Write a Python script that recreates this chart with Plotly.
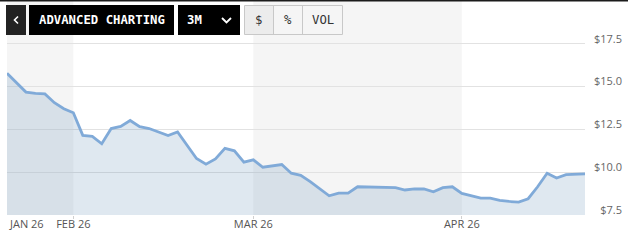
import plotly.graph_objects as go

# ---- data ----
dates = [
    "2026-01-22", "2026-01-23", "2026-01-26", "2026-01-27", "2026-01-28", "2026-01-29", "2026-01-30",
    "2026-02-02", "2026-02-03", "2026-02-04", "2026-02-05", "2026-02-06",
    "2026-02-09", "2026-02-10", "2026-02-11", "2026-02-12", "2026-02-13",
    "2026-02-17", "2026-02-18", "2026-02-19", "2026-02-20",
    "2026-02-23", "2026-02-24", "2026-02-25", "2026-02-26", "2026-02-27",
    "2026-03-02", "2026-03-03", "2026-03-04", "2026-03-05", "2026-03-06",
    "2026-03-09", "2026-03-10", "2026-03-11", "2026-03-12", "2026-03-13",
    "2026-03-16", "2026-03-17", "2026-03-18", "2026-03-19", "2026-03-20",
    "2026-03-23", "2026-03-24", "2026-03-25", "2026-03-26", "2026-03-27",
    "2026-03-30", "2026-03-31",
    "2026-04-01", "2026-04-02", "2026-04-06", "2026-04-07", "2026-04-08", "2026-04-09", "2026-04-10",
    "2026-04-13", "2026-04-14", "2026-04-15", "2026-04-16", "2026-04-17", "2026-04-20", "2026-04-21",
]
prices = [
    15.78, 15.24, 14.68, 14.60, 14.57, 14.06, 13.71,
    13.47, 12.15, 12.09, 11.66, 12.55,
    12.68, 13.02, 12.66, 12.55, 12.33,
    12.14, 12.35, 11.55, 10.80,
    10.47, 10.78, 11.39, 11.25, 10.59,
    10.72, 10.29, 10.37, 10.45, 9.94,
    9.82, 9.45, 9.04, 8.62, 8.78,
    8.78, 9.15, 9.13, 9.13, 9.13,
    9.10, 8.96, 9.02, 9.02, 8.86,
    9.10, 9.15,
    8.76, 8.61, 8.49, 8.49, 8.35, 8.29, 8.25,
    8.45, 9.15, 9.94, 9.66, 9.86, 9.90, 9.90,
]
month_ticks = ["2026-02-02", "2026-03-02", "2026-04-01"]
month_labels = ["FEB 26", "MAR 26", "APR 26"]
first_label = "JAN 26"
y_ticks = [7.5, 10.0, 12.5, 15.0, 17.5]
y_labels = ["$7.5", "$10.0", "$12.5", "$15.0", "$17.5"]
buttons = ["ADVANCED CHARTING", "3M"]
toggles = ["$", "%", "VOL"]

# ---- layout constants ----
W, H = 628, 242
ML, MR, MT, MB = 7, 6, 1, 27
PW = W - ML - MR  # plot area width in px

def fx(px):  # page x -> paper fraction
    return (px - ML) / PW

def oy(py):  # page y -> pixel offset from paper top (upward positive)
    return MT - py

fig = go.Figure()
fig.add_trace(go.Scatter(
    x=dates, y=prices, mode="lines",
    line=dict(color="#80aad8", width=2.8),
    fill="tozeroy", fillcolor="rgba(96,140,180,0.2)",
    hoverinfo="skip",
))

shapes = []
# month bands
idx = {d: i for i, d in enumerate(dates)}
band_pairs = [(0, idx[month_ticks[0]]), (idx[month_ticks[1]], idx[month_ticks[2]])]
for a, b in band_pairs:
    shapes.append(dict(type="rect", xref="x", yref="paper", x0=a, x1=b, y0=0, y1=1,
                       fillcolor="#f5f5f5", line=dict(width=0), layer="below"))

# top dark rule
shapes.append(dict(type="rect", xref="paper", yref="paper", x0=fx(0), x1=fx(W),
                   ysizemode="pixel", yanchor=1, y0=oy(0), y1=oy(1.6),
                   fillcolor="#1b1b1b", line=dict(width=0)))

def btn(x0, x1, y0, y1, fill, line_color=None):
    shapes.append(dict(type="rect", xref="paper", yref="paper",
                       xsizemode="pixel", xanchor=0, x0=x0 - ML, x1=x1 - ML,
                       ysizemode="pixel", yanchor=1, y0=oy(y0), y1=oy(y1),
                       fillcolor=fill,
                       line=dict(width=1 if line_color else 0, color=line_color or fill)))

btn(6, 26, 5, 35, "#222222")
btn(29, 174, 5, 35, "#000000")
btn(178, 240, 5, 35, "#000000")
btn(244.5, 273, 5.5, 34.5, "#ececec")
btn(244.5, 342.5, 5.5, 34.5, "rgba(0,0,0,0)", "#c8c8c8")
for xd in (273, 302):
    shapes.append(dict(type="line", xref="paper", yref="paper",
                       xsizemode="pixel", xanchor=0, x0=xd - ML + 0.5, x1=xd - ML + 0.5,
                       ysizemode="pixel", yanchor=1, y0=oy(5.5), y1=oy(34.5),
                       line=dict(width=1, color="#c8c8c8")))
# dropdown chevron
shapes.append(dict(type="path", xref="paper", yref="paper",
                   xsizemode="pixel", xanchor=0, ysizemode="pixel", yanchor=1,
                   path=f"M {222-ML},{oy(18)} L {226.5-ML},{oy(22.5)} L {231-ML},{oy(18)}",
                   line=dict(color="white", width=1.8)))
# back chevron
shapes.append(dict(type="path", xref="paper", yref="paper",
                   xsizemode="pixel", xanchor=0, ysizemode="pixel", yanchor=1,
                   path=f"M {18-ML},{oy(16.5)} L {14.5-ML},{oy(20)} L {18-ML},{oy(23.5)}",
                   line=dict(color="white", width=1.6)))

mono = "DejaVu Sans Mono"
annotations = []

def label(text, px, py, color, size=12.3, family=mono, xanchor="center"):
    annotations.append(dict(text=text, xref="paper", yref="paper",
                            x=fx(px), y=1, yshift=oy(py), xanchor=xanchor, yanchor="middle",
                            showarrow=False, font=dict(family=family, size=size, color=color)))

label("<b>" + buttons[0] + "</b>", 101.5, 20, "white")
label("<b>" + buttons[1] + "</b>", 195, 20, "white")
label(toggles[0], 258.5, 20, "#333333")
label(toggles[1], 287.5, 20, "#333333")
label(toggles[2], 322.5, 20, "#333333")

annotations.append(dict(text=first_label, xref="x", yref="paper", x=0, y=0,
                        xanchor="left", yanchor="middle", yshift=-8, showarrow=False,
                        font=dict(family="Open Sans", size=11, color="#555555")))

fig.update_layout(
    width=W, height=H,
    margin=dict(l=ML, r=MR, t=MT, b=MB),
    paper_bgcolor="white", plot_bgcolor="white",
    showlegend=False,
    shapes=shapes, annotations=annotations,
    xaxis=dict(
        type="category", domain=[0, (585 - ML) / PW], range=[0, len(dates) - 1],
        tickvals=month_ticks, ticktext=month_labels,
        ticks="outside", ticklen=3, tickcolor="#d0d0d0",
        ticklabelstandoff=-4,
        showgrid=False, zeroline=False, showline=False,
        tickfont=dict(family="Open Sans", size=11, color="#555555"),
    ),
    yaxis=dict(
        range=[7.5, 20.0], anchor="free", position=1, side="left",
        tickvals=y_ticks, ticktext=y_labels, ticks="",
        ticklabelshift=-5, ticklabelstandoff=0,
        showgrid=True, gridcolor="#e2e2e2", gridwidth=1,
        zeroline=False, showline=False,
        tickfont=dict(family="Open Sans", size=11, color="#666666"),
    ),
)

fig.write_html("out.html")
